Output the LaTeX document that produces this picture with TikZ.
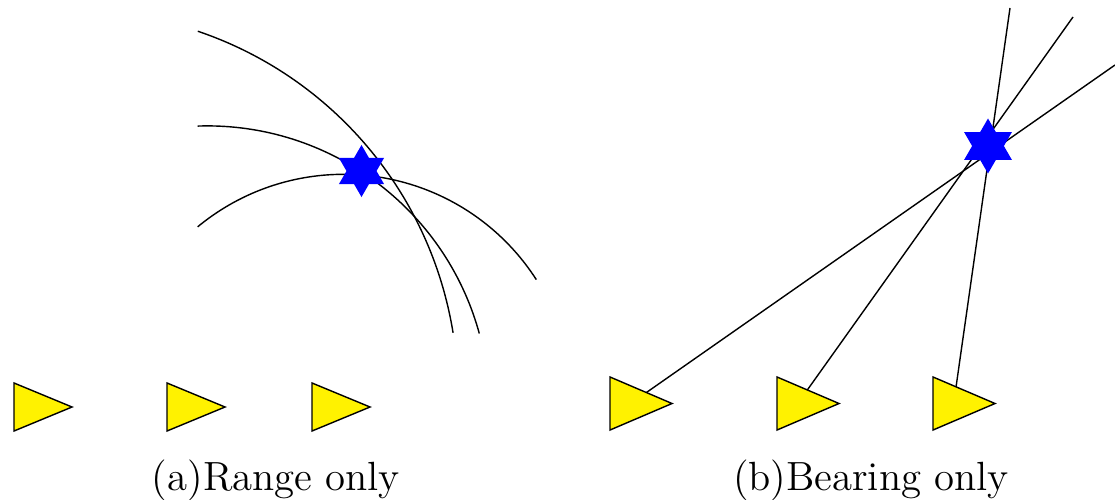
\documentclass[tikz,border=0pt]{standalone}
\usepackage{tikz}
\usetikzlibrary{shapes.geometric,backgrounds,calc}

\tikzset{
  sensor/.style={isosceles triangle, isosceles triangle stretches,
    draw=black, fill=yellow, inner sep=0pt, outer sep=0pt, anchor=lower side},
  target/.style={star, star points=6, star point ratio=1.732,
    fill=blue, inner sep=0pt, outer sep=0pt},
  caption/.style={anchor=base, font=\fontsize{11.6}{14}\selectfont}
}

\begin{document}
\begin{tikzpicture}[x=0.01cm,y=-0.01cm]
\useasboundingbox (0,0) rectangle (1115,500);

% (a) Range only

% Range circles
\draw (75,394) ++(-71.3:383) arc (-71.3:-9.2:383);
\draw (207.3,407.9) ++(-91.95:282) arc (-91.95:-15.3:282);
\draw (343.6,403.3) ++(-129.6:229) arc (-129.6:-32.7:229);

% Sensors
\node[sensor, minimum height=5.8mm, minimum width=4.8mm] (s1) at (14,407) {};
\node[sensor, minimum height=5.8mm, minimum width=4.8mm] (s2) at (167,407) {};
\node[sensor, minimum height=5.8mm, minimum width=4.8mm] (s3) at (312,407) {};

% Target
\node[target, minimum size=5.2mm] (tgtA) at (361.5,171) {};

\node[caption] (capA) at (276,490) {(a)Range only};

% (b) Bearing only

% Sensors
\node[sensor, minimum height=6.2mm, minimum width=5.3mm] (s4) at (610,403.5) {};
\node[sensor, minimum height=6.2mm, minimum width=5.3mm] (s5) at (777,403.5) {};
\node[sensor, minimum height=6.2mm, minimum width=5.3mm] (s6) at (933,403.5) {};

% Target
\node[target, minimum size=5.5mm] (tgtB) at (988,146) {};

% Bearing lines (from the centre of each sensor)
\coordinate (b4) at (1115,65);
\coordinate (b5) at (1073,17);
\coordinate (b6) at (1010,8);
\begin{scope}[on background layer]
\draw ($(s4.apex)!2/3!(s4.lower side)$) -- (b4);
\draw ($(s5.apex)!2/3!(s5.lower side)$) -- (b5);
\draw ($(s6.apex)!2/3!(s6.lower side)$) -- (b6);
\end{scope}

\node[caption] (capB) at (871,490) {(b)Bearing only};

\end{tikzpicture}
\end{document}
